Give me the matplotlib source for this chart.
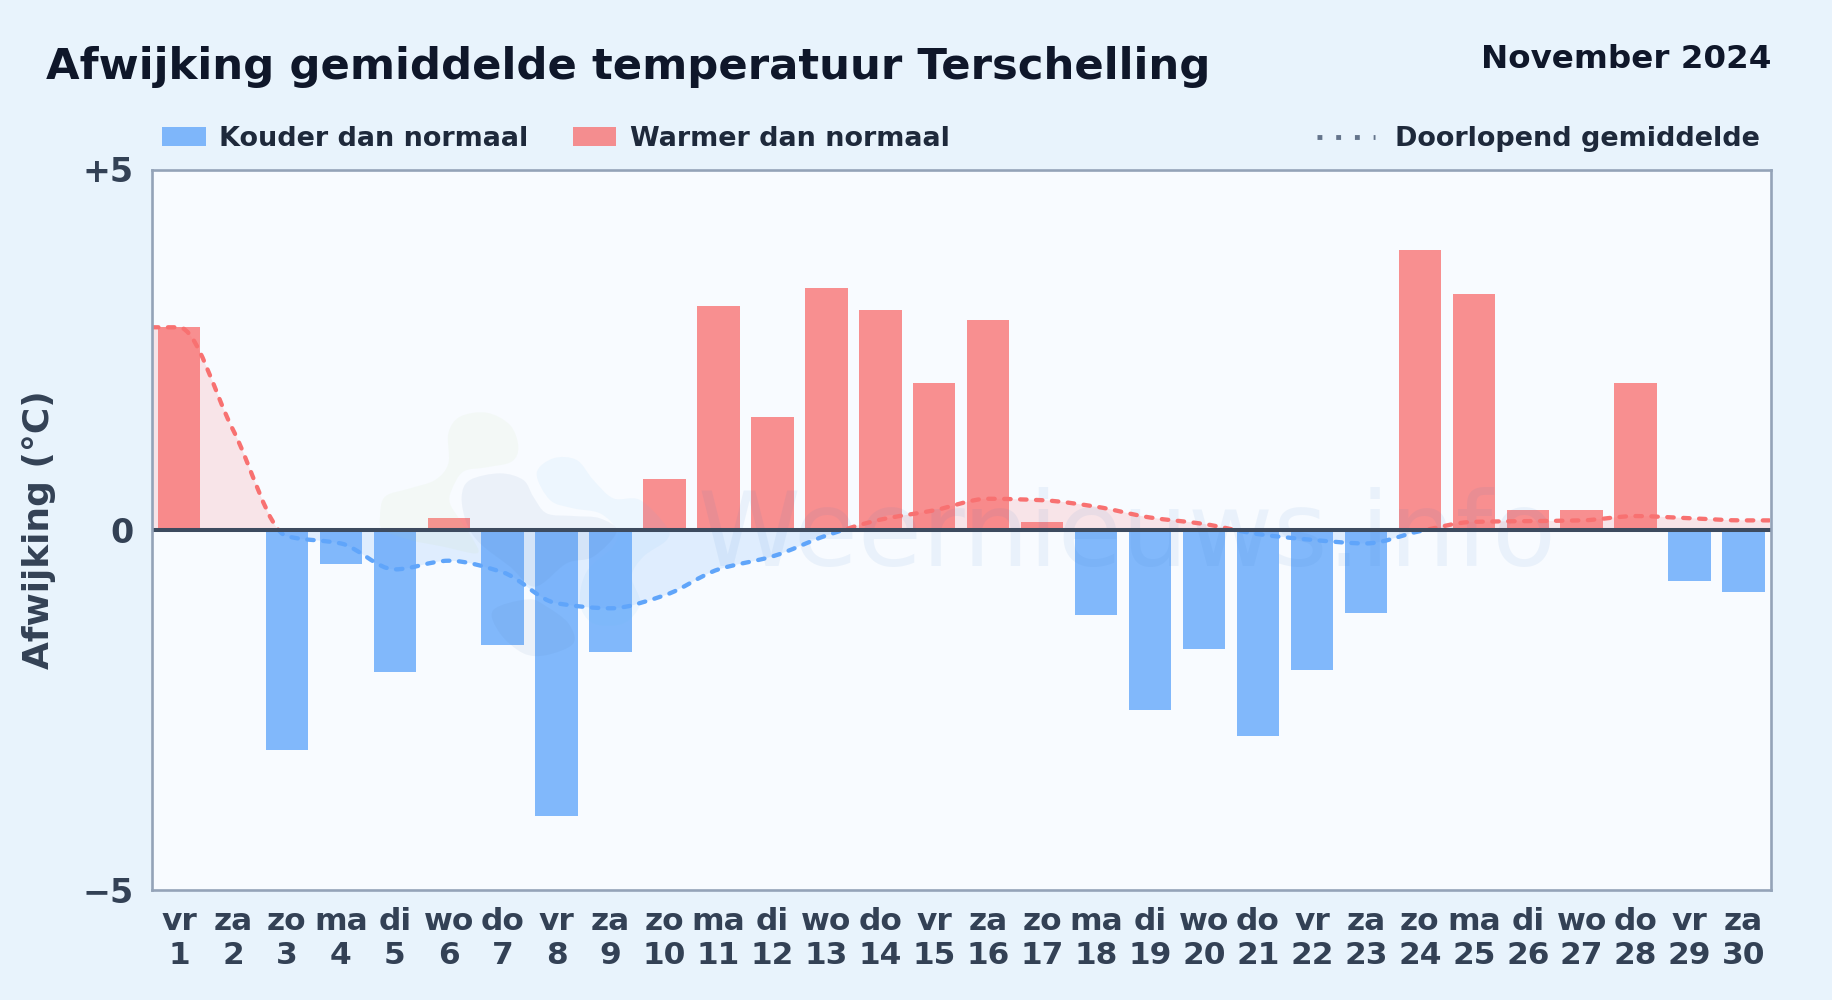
import numpy as np
import matplotlib
matplotlib.use("Agg")
import matplotlib.pyplot as plt
from matplotlib.path import Path
from matplotlib.patches import PathPatch, Rectangle
from matplotlib.lines import Line2D

W, H = 1832, 1000

days = list(range(1, 31))
weekdays = ["vr", "za", "zo", "ma", "di", "wo", "do", "vr", "za", "zo", "ma", "di", "wo", "do", "vr",
            "za", "zo", "ma", "di", "wo", "do", "vr", "za", "zo", "ma", "di", "wo", "do", "vr", "za"]
afwijking = [2.81, -0.03, -3.05, -0.48, -1.98, 0.17, -1.60, -3.97, -1.69, 0.70,
             3.10, 1.56, 3.36, 3.05, 2.03, 2.91, 0.11, -1.19, -2.50, -1.66,
             -2.86, -1.94, -1.16, 3.88, 3.27, 0.28, 0.27, 2.03, -0.71, -0.87]
gemiddelde = [2.81, 1.39, -0.09, -0.19, -0.55, -0.43, -0.59, -1.02, -1.09, -0.91,
              -0.55, -0.37, -0.08, 0.14, 0.27, 0.43, 0.41, 0.32, 0.17, 0.08,
              -0.06, -0.14, -0.19, -0.02, 0.11, 0.12, 0.13, 0.19, 0.16, 0.13]

BG = "#e8f3fc"
BLUE = "#60a5fa"
RED = "#f87171"
DARK = "#0f172a"
TEXT = "#1e293b"
TICK = "#334155"

logo_green = [(60, 380), (75, 320), (150, 295), (225, 270), (265, 220), (265, 130), (300, 80), (380, 68),
              (450, 105), (475, 170), (455, 215), (380, 232), (310, 245), (275, 300), (270, 340), (300, 390),
              (340, 450), (350, 490), (250, 470), (150, 450), (70, 420)]
logo_dark = [(305, 320), (330, 270), (420, 250), (490, 270), (520, 320), (560, 370), (640, 378), (720, 385),
             (770, 425), (700, 500), (620, 520), (525, 590), (450, 530), (360, 460), (320, 400)]
logo_dark2 = [(400, 660), (505, 628), (560, 650), (625, 700), (640, 760), (560, 795), (490, 790), (420, 730)]
logo_light = [(530, 250), (580, 205), (650, 210), (700, 270), (760, 325), (840, 330), (920, 410), (920, 450),
              (850, 500), (815, 560), (840, 640), (790, 700), (700, 700), (660, 640), (680, 545), (760, 470),
              (770, 420), (720, 370), (640, 355), (570, 330)]


def fx(x):
    return x / W


def fy(y):
    return 1 - y / H


def smooth_path(x, y):
    # monotone cubic through the points, as bezier segments
    x = np.asarray(x, float)
    y = np.asarray(y, float)
    h = np.diff(x)
    s = np.diff(y) / h
    t = np.zeros(len(x))
    for i in range(1, len(x) - 1):
        if s[i - 1] * s[i] > 0:
            t[i] = 2 * s[i - 1] * s[i] / (s[i - 1] + s[i])
    verts = [(x[0], y[0])]
    codes = [Path.MOVETO]
    for i in range(len(h)):
        verts += [(x[i] + h[i] / 3, y[i] + t[i] * h[i] / 3),
                  (x[i + 1] - h[i] / 3, y[i + 1] - t[i + 1] * h[i] / 3),
                  (x[i + 1], y[i + 1])]
        codes += [Path.CURVE4] * 3
    return verts, codes


def blob(fig, pts, color):
    # closed smooth shape for the faint logo, crop coordinates to figure
    p = np.array(pts, float) / 3 + [360, 390]
    n = len(p)
    verts = [tuple(p[0])]
    codes = [Path.MOVETO]
    for i in range(n):
        p0, p1, p2, p3 = p[i - 1], p[i], p[(i + 1) % n], p[(i + 2) % n]
        verts += [tuple(p1 + (p2 - p0) / 6), tuple(p2 - (p3 - p1) / 6), tuple(p2)]
        codes += [Path.CURVE4] * 3
    verts = [(fx(a), fy(b)) for a, b in verts]
    return PathPatch(Path(verts, codes), transform=fig.transFigure, facecolor=color,
                     edgecolor="none", alpha=0.07, zorder=3.5)


fig = plt.figure(figsize=(W / 100, H / 100), dpi=100, facecolor=BG)
ax = fig.add_axes([fx(152), fy(890), (1770.5 - 152) / W, (890 - 169.5) / H])
ax.set_facecolor("#f8fbff")
ax.set_xlim(0.5, 30.5)
ax.set_ylim(-5, 5)

colors = [RED if v > 0 else BLUE for v in afwijking]
ax.bar(days, afwijking, width=0.785, color=colors, alpha=0.78, linewidth=0, zorder=3)

# watermark sits over the bars
ax.add_patch(blob(fig, logo_green, "#b5d98a"))
ax.add_patch(blob(fig, logo_dark, "#4a78b0"))
ax.add_patch(blob(fig, logo_dark2, "#4a78b0"))
ax.add_patch(blob(fig, logo_light, "#60b8fa"))
ax.text(fx(1127), fy(566), "Weernieuws.info", transform=fig.transFigure, fontsize=75, color="#2f78c8",
        alpha=0.07, ha="center", va="baseline", zorder=3.6)

# running mean, flat out to both edges of the plot
lx = [0.5] + days + [30.5]
ly = [gemiddelde[0]] + gemiddelde + [gemiddelde[-1]]
verts, codes = smooth_path(lx, ly)
area = Path(verts + [(30.5, 0), (0.5, 0), (0.5, 0)], codes + [Path.LINETO, Path.LINETO, Path.CLOSEPOLY])
line = Path(verts, codes)
for color, y0, h in [(RED, 0, 5), (BLUE, -5, 5)]:
    clip = Rectangle((0.5, y0), 30, h, transform=ax.transData)
    f = PathPatch(area, facecolor=color, edgecolor="none", alpha=0.16, zorder=2)
    ax.add_patch(f)
    f.set_clip_path(clip)
    l = PathPatch(line, facecolor="none", edgecolor=color, linewidth=3.1, capstyle="round",
                  linestyle=(0, (1.5, 2.2)), zorder=4)
    ax.add_patch(l)
    l.set_clip_path(clip)

ax.axhline(0, color="#3d4b5f", linewidth=2.9, zorder=5)

for s in ax.spines.values():
    s.set_color("#94a3b8")
    s.set_linewidth(1.9)
    s.set_zorder(6)

ax.set_yticks([-5, 0, 5])
ax.set_yticklabels(["\u22125", "0", "+5"], fontsize=24, fontweight="bold", color=TICK)
ax.set_xticks(days)
ax.set_xticklabels([f"{w}\n{d}" for w, d in zip(weekdays, days)], fontsize=22.5, fontweight="bold",
                   color=TICK, linespacing=1.19)
ax.tick_params(axis="both", length=0)
ax.tick_params(axis="x", pad=12.5)
ax.tick_params(axis="y", pad=13)

fig.text(fx(39.5), fy(530), "Afwijking (\u00b0C)", rotation=90, fontsize=25.9, fontweight="bold",
         color=TICK, ha="center", va="center")

fig.text(fx(46), fy(67), "Afwijking gemiddelde temperatuur Terschelling", fontsize=31.25, fontweight="bold",
         color=DARK, ha="left", va="center")
fig.text(fx(1771), fy(60), "November 2024", fontsize=23.4, fontweight="bold", color=DARK, ha="right", va="center")

# legend row
fig.patches.append(Rectangle((fx(162), fy(146)), 44 / W, 19 / H, transform=fig.transFigure, facecolor=BLUE,
                             alpha=0.78, edgecolor="none"))
fig.patches.append(Rectangle((fx(573), fy(146)), 43 / W, 19 / H, transform=fig.transFigure, facecolor=RED,
                             alpha=0.78, edgecolor="none"))
fig.add_artist(Line2D([fx(1317), fx(1375)], [fy(137), fy(137)], color="#64748b", linewidth=3.5,
                      linestyle=(0, (1, 2.85)), transform=fig.transFigure))
for x, t in [(219, "Kouder dan normaal"), (630, "Warmer dan normaal"), (1395, "Doorlopend gemiddelde")]:
    fig.text(fx(x), fy(139), t, fontsize=19.45, fontweight="bold", color=TEXT, ha="left", va="center")

fig.savefig("out.png", dpi=100, facecolor=BG)
